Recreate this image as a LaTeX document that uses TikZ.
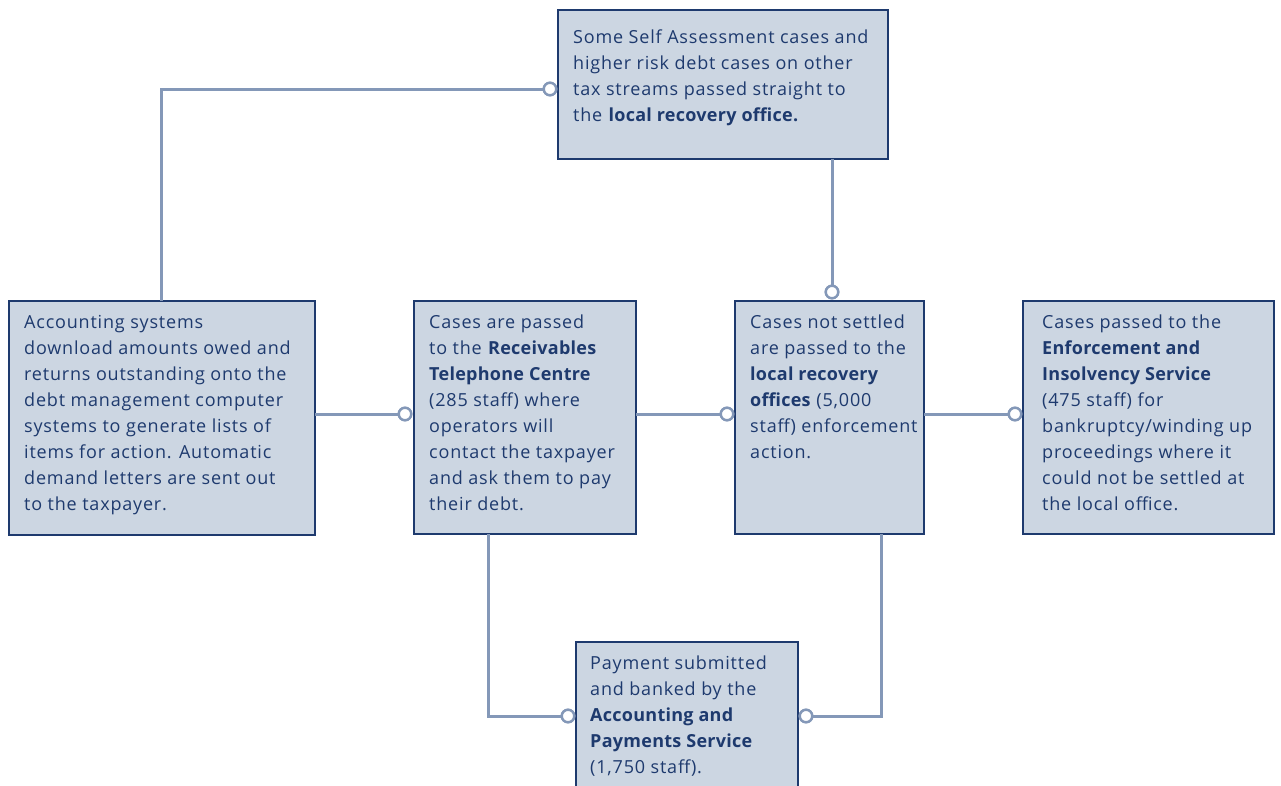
\documentclass[tikz,border=0pt]{standalone}
\usepackage{fontspec}
\setmainfont{Open Sans}[LetterSpace=4.5,BoldFeatures={LetterSpace=1.5}]
\definecolor{navy}{HTML}{1E3A6E}
\definecolor{boxfill}{HTML}{CCD6E2}
\definecolor{conn}{HTML}{8498B8}
\begin{document}
\begin{tikzpicture}[x=1pt,y=-1pt,
  box/.style={draw=navy,line width=1.2pt,fill=boxfill},
  txt/.style={anchor=north west,inner sep=0pt,align=left,text=navy,
    font=\fontsize{18}{26}\selectfont},
  link/.style={draw=conn,line width=3pt},
  ring/.style={circle,draw=conn,fill=white,line width=2.4pt,minimum size=12.5pt,inner sep=0pt}]
\useasboundingbox (0,0) rectangle (1281,785);
\begin{scope}
\clip (0,0) rectangle (1281,785);
% boxes
\path[box] (558,10) rectangle (888,159);
\path[box] (9,301) rectangle (315,535);
\path[box] (414,301) rectangle (636,534);
\path[box] (735,301) rectangle (924,534);
\path[box] (1023,301) rectangle (1274,534);
\path[box] (576,642) rectangle (798,800);
% connector anchor points on box edges
\coordinate (Ltop) at (161,301);
\coordinate (Lright) at (315,414);
\coordinate (Bright) at (636,414);
\coordinate (Bbot) at (488,534);
\coordinate (Cright) at (924,414);
\coordinate (Cbot) at (881,534);
\coordinate (Tbot) at (832,159);
% rings
\node[ring] (r1) at (550,89) {};
\node[ring] (r2) at (405,414) {};
\node[ring] (r3) at (727,414) {};
\node[ring] (r4) at (1015,414) {};
\node[ring] (r5) at (832,292) {};
\node[ring] (r6) at (568,716) {};
\node[ring] (r7) at (806,716) {};
% connectors
\draw[link] (Ltop) |- (r1.west);
\draw[link] (Lright) -- (r2.west);
\draw[link] (Bright) -- (r3.west);
\draw[link] (Cright) -- (r4.west);
\draw[link] (Tbot) -- (r5.north);
\draw[link] (Bbot) |- (r6.west);
\draw[link] (Cbot) |- (r7.east);
\foreach \p in {(550,89),(405,414),(727,414),(1015,414),(832,292),(568,716),(806,716)}
  \node[ring] at \p {};
% texts
\node[txt] (t1) at (573,30) {Some Self Assessment cases and\\higher risk debt cases on other\\tax streams passed straight to\\the \textbf{local recovery office.}};
\node[txt] (t2) at (24,315) {Accounting systems\\download amounts owed and\\returns outstanding onto the\\debt management computer\\systems to generate lists of\\items for action. Automatic\\demand letters are sent out\\to the taxpayer.};
\node[txt] (t3) at (429,315) {Cases are passed\\to the \textbf{Receivables}\\\textbf{Telephone Centre}\\(285 staff) where\\operators will\\contact the taxpayer\\and ask them to pay\\their debt.};
\node[txt] (t4) at (750,315) {Cases not settled\\are passed to the\\\textbf{local recovery}\\\textbf{offices} (5,000\\staff) enforcement\\action.};
\node[txt] (t5) at (1042,315) {Cases passed to the\\\textbf{Enforcement and}\\\textbf{Insolvency Service}\\(475 staff) for\\bankruptcy/winding up\\proceedings where it\\could not be settled at\\the local office.};
\node[txt] (t6) at (590,656) {Payment submitted\\and banked by the\\\textbf{Accounting and}\\\textbf{Payments Service}\\(1,750 staff).};
\end{scope}
\end{tikzpicture}
\end{document}
